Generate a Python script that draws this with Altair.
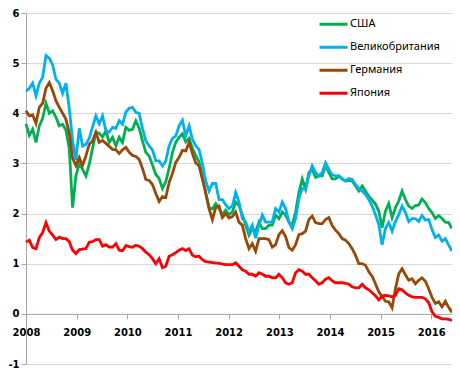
import altair as alt
import pandas as pd

# regular sampling grid (approx. every 24 days), Jan 2008 - end of May 2016
dates = pd.date_range("2008-01-01", periods=129, freq="24D")

series_names = ["США", "Великобритания", "Германия", "Япония"]
colors = ["#00B050", "#00B0F0", "#984807", "#FF0000"]

usa = [3.79, 3.56, 3.68, 3.42, 3.75, 3.9, 4.2, 4.0, 4.05, 3.92, 3.75, 3.78, 3.66, 3.3, 2.12, 2.75,
       3.0, 2.88, 2.75, 2.98, 3.3, 3.62, 3.6, 3.53, 3.65, 3.42, 3.52, 3.35, 3.52, 3.42, 3.72, 3.66,
       3.68, 3.85, 3.7, 3.45, 3.22, 3.15, 2.97, 2.78, 2.7, 2.5, 2.64, 2.9, 3.22, 3.42, 3.52, 3.59,
       3.43, 3.5, 3.3, 3.16, 3.03, 2.74, 2.4, 2.12, 2.09, 2.2, 2.1, 1.98, 2.07, 1.98, 2.03,
       2.23, 2.16, 1.97, 1.77, 1.57, 1.7, 1.64, 1.83, 1.7, 1.7, 1.77, 1.77, 1.97, 1.9, 2.03, 1.97,
       1.83, 1.77, 2.03, 2.42, 2.69, 2.49, 2.82, 2.88, 2.72, 2.75, 2.75, 2.95, 2.82, 2.69, 2.69, 2.75, 2.69,
       2.65, 2.66, 2.65, 2.55, 2.45, 2.55, 2.45, 2.34, 2.27, 2.19, 2.05, 1.72, 2.05, 2.2, 1.92, 2.12,
       2.25, 2.45, 2.28, 2.15, 2.1, 2.16, 2.17, 2.29, 2.22, 2.1, 2.02, 1.9, 1.96, 1.9, 1.83, 1.82, 1.7]

uk = [4.44, 4.5, 4.6, 4.35, 4.6, 4.72, 5.15, 5.1, 4.97, 4.68, 4.6, 4.4, 4.6, 4.1, 3.45, 3.07,
      3.7, 3.35, 3.38, 3.5, 3.73, 3.95, 3.79, 3.95, 3.65, 3.62, 3.72, 3.7, 3.85, 3.78, 4.02, 4.1,
      4.12, 4.02, 4.0, 3.7, 3.45, 3.35, 3.27, 3.05, 3.05, 2.95, 3.05, 3.35, 3.5, 3.55, 3.75, 3.86,
      3.55, 3.75, 3.48, 3.35, 3.28, 3.0, 2.65, 2.45, 2.6, 2.6, 2.28, 2.28, 2.18, 2.1, 2.15,
      2.42, 2.23, 1.9, 1.83, 1.64, 1.77, 1.51, 1.77, 1.97, 1.83, 1.83, 1.83, 2.1, 2.03, 2.23, 2.1,
      1.83, 1.7, 1.9, 2.3, 2.5, 2.49, 2.75, 2.95, 2.82, 2.75, 2.82, 3.01, 2.88, 2.78, 2.75, 2.75, 2.69,
      2.65, 2.7, 2.68, 2.58, 2.5, 2.45, 2.38, 2.28, 2.15, 1.98, 1.78, 1.38, 1.7, 1.82, 1.65, 1.84,
      1.98, 2.15, 2.02, 1.84, 1.9, 1.9, 1.84, 1.96, 1.87, 1.88, 1.68, 1.52, 1.57, 1.45, 1.5, 1.37, 1.25]

germany = [4.05, 3.95, 3.97, 3.8, 4.12, 4.2, 4.5, 4.61, 4.45, 4.25, 4.12, 4.0, 3.88, 3.6, 3.1, 2.96,
           3.12, 2.96, 3.15, 3.38, 3.45, 3.62, 3.42, 3.46, 3.4, 3.34, 3.28, 3.27, 3.2, 3.27, 3.32, 3.22,
           3.16, 3.14, 3.08, 2.9, 2.68, 2.66, 2.58, 2.4, 2.24, 2.34, 2.32, 2.62, 2.8, 3.02, 3.12, 3.26,
           3.25, 3.42, 3.2, 3.01, 2.95, 2.68, 2.42, 2.1, 1.88, 2.12, 2.15, 1.92, 2.0, 1.91, 1.94,
           2.03, 1.83, 1.77, 1.5, 1.3, 1.4, 1.25, 1.5, 1.5, 1.5, 1.48, 1.33, 1.38, 1.58, 1.66, 1.54,
           1.32, 1.27, 1.38, 1.58, 1.6, 1.65, 1.88, 1.95, 1.82, 1.8, 1.8, 1.88, 1.92, 1.76, 1.67, 1.6, 1.5,
           1.47, 1.4, 1.3, 1.17, 1.0, 1.0, 0.97, 0.84, 0.75, 0.6, 0.44, 0.35, 0.25, 0.24, 0.12, 0.5,
           0.8, 0.9, 0.78, 0.67, 0.7, 0.6, 0.67, 0.72, 0.65, 0.5, 0.33, 0.21, 0.24, 0.14, 0.25, 0.13, 0.03]

japan = [1.43, 1.47, 1.32, 1.3, 1.52, 1.62, 1.82, 1.65, 1.57, 1.48, 1.53, 1.5, 1.5, 1.44, 1.27, 1.2,
         1.28, 1.29, 1.3, 1.43, 1.44, 1.48, 1.48, 1.35, 1.38, 1.33, 1.33, 1.4, 1.27, 1.26, 1.36, 1.34,
         1.33, 1.37, 1.35, 1.3, 1.23, 1.18, 1.1, 1.0, 1.1, 0.92, 0.95, 1.15, 1.18, 1.22, 1.27, 1.3,
         1.26, 1.3, 1.17, 1.14, 1.15, 1.08, 1.04, 1.03, 1.02, 1.01, 1.01, 0.99, 0.98, 0.98, 0.98,
         1.02, 0.95, 0.88, 0.85, 0.79, 0.79, 0.75, 0.82, 0.79, 0.75, 0.75, 0.72, 0.72, 0.79, 0.72, 0.62,
         0.59, 0.62, 0.82, 0.88, 0.85, 0.79, 0.79, 0.72, 0.66, 0.59, 0.62, 0.69, 0.72, 0.66, 0.62, 0.62, 0.62,
         0.61, 0.59, 0.54, 0.52, 0.52, 0.59, 0.52, 0.48, 0.42, 0.36, 0.28, 0.35, 0.37, 0.36, 0.34, 0.37,
         0.5, 0.48, 0.42, 0.37, 0.34, 0.33, 0.33, 0.33, 0.3, 0.22, 0.04, -0.05, -0.07, -0.1, -0.1, -0.11, -0.13]

year_ticks = list(range(2008, 2017))
y_ticks = list(range(-1, 7))

rows = []
for name, vals in zip(series_names, [usa, uk, germany, japan]):
    assert len(vals) == len(dates), (name, len(vals))
    for d, v in zip(dates, vals):
        rows.append({"date": d, "value": v, "country": name})
df = pd.DataFrame(rows)

H = 351
axis_font = "DejaVu Sans"

chart = alt.Chart(df).mark_line(strokeWidth=2.8).encode(
    x=alt.X(
        "date:T",
        scale=alt.Scale(
            domain=[alt.DateTime(year=2008, month=1, date=1),
                    alt.DateTime(year=2016, month=5, date=30)],
            nice=False,
        ),
        axis=alt.Axis(
            title=None,
            values=[alt.DateTime(year=y, month=1, date=1) for y in year_ticks],
            format="%Y",
            offset=-H / 7.0,
            grid=False,
            domainColor="#A6A6A6",
            tickColor="#A6A6A6",
            tickSize=5,
            labelFont=axis_font,
            labelFontWeight="bold",
            labelFontSize=10,
            labelColor="#000000",
            labelPadding=9,
            labelFlush=False,
            labelOverlap=False,
        ),
    ),
    y=alt.Y(
        "value:Q",
        scale=alt.Scale(domain=[-1, 6], nice=False, zero=False),
        axis=alt.Axis(
            title=None,
            values=y_ticks,
            format="d",
            labelExpr="replace(datum.label, '\u2212', '-')",
            grid=True,
            gridColor="#D9D9D9",
            gridWidth=1,
            domainColor="#A6A6A6",
            tickColor="#A6A6A6",
            tickSize=5,
            labelFont=axis_font,
            labelFontWeight="bold",
            labelFontSize=10,
            labelColor="#000000",
            labelPadding=2,
        ),
    ),
    color=alt.Color(
        "country:N",
        sort=series_names,
        scale=alt.Scale(domain=series_names, range=colors),
        legend=alt.Legend(
            title=None,
            orient="none",
            legendX=292,
            legendY=1,
            direction="vertical",
            symbolType="stroke",
            symbolSize=784,
            symbolStrokeWidth=3,
            labelFont="Noto Sans",
            labelFontSize=11,
            labelColor="#000000",
            labelOffset=1,
            clipHeight=20.7,
            rowPadding=2,
            padding=0,
        ),
    ),
).properties(
    width=426,
    height=H,
    padding={"left": 18, "top": 5, "right": 0, "bottom": 4},
    autosize=alt.AutoSizeParams(type="none"),
).configure_view(strokeWidth=0)

chart.save("out.html", embed_options={"renderer": "svg", "actions": False})
